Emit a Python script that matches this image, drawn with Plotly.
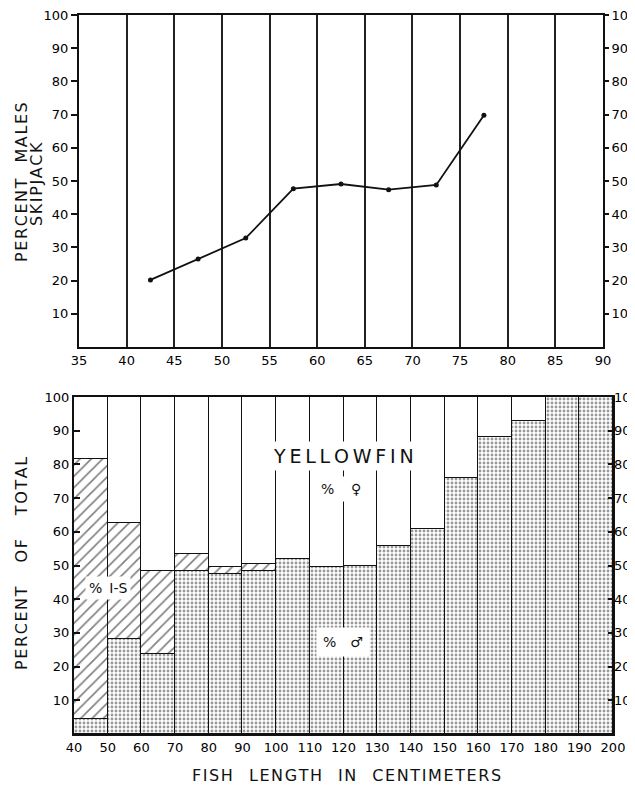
import plotly.graph_objects as go

# ---- Skipjack: percent males by length (top panel)
skip_length = [42.5, 47.5, 52.5, 57.5, 62.5, 67.5, 72.5, 77.5]
skip_pct_males = [20.2, 26.5, 32.8, 47.7, 49.1, 47.4, 48.8, 69.8]
top_xticks = [35, 40, 45, 50, 55, 60, 65, 70, 75, 80, 85, 90]
top_yticks = [10, 20, 30, 40, 50, 60, 70, 80, 90, 100]

# ---- Yellowfin: percent of total by 10-cm length class (bottom panel)
yf_class_mid = [45, 55, 65, 75, 85, 95, 105, 115, 125, 135, 145, 155, 165, 175, 185, 195]
yf_males = [4.5, 28.1, 23.6, 48.5, 47.4, 48.4, 51.9, 49.6, 50.0, 55.9, 60.8, 76.0, 88.1, 92.8, 100, 100]
yf_immature = [77.1, 34.4, 24.9, 4.9, 2.3, 2.0, 0, 0, 0, 0, 0, 0, 0, 0, 0, 0]
yf_females = [18.4, 37.5, 51.5, 46.6, 50.3, 49.6, 48.1, 50.4, 50.0, 44.1, 39.2, 24.0, 11.9, 7.2, 0, 0]
bot_xticks = [40, 50, 60, 70, 80, 90, 100, 110, 120, 130, 140, 150, 160, 170, 180, 190, 200]
bot_yticks = [10, 20, 30, 40, 50, 60, 70, 80, 90, 100]

# page body has an 8px margin, so the figure is sized to fit the window
OFF = 8
W, H = 635 - OFF, 788 - OFF
FONT = "DejaVu Sans"
INK = "#111111"


def px(x):
    return (x - OFF) / W


def py(y):
    return 1 - (y - OFF) / H


def spaced(text, gap="\u200a", word="\u2003"):
    words = text.split(" ")
    return word.join(gap.join(list(w)) for w in words)


fig = go.Figure()

fig.add_trace(go.Scatter(
    x=skip_length, y=skip_pct_males, mode="lines+markers",
    line=dict(color=INK, width=1.8), marker=dict(color=INK, size=5),
    xaxis="x", yaxis="y", showlegend=False, hoverinfo="skip"))
fig.add_trace(go.Scatter(x=[None], y=[None], xaxis="x", yaxis="y3",
                         showlegend=False, hoverinfo="skip"))

line = dict(color=INK, width=1.5)
fig.add_trace(go.Bar(
    x=yf_class_mid, y=yf_males, width=10, xaxis="x2", yaxis="y2",
    marker=dict(color="white", line=line,
                pattern=dict(shape=".", fgcolor="#333333", bgcolor="white",
                             size=4, solidity=0.4)),
    showlegend=False, hoverinfo="skip"))
fig.add_trace(go.Bar(
    x=yf_class_mid, y=yf_immature, width=10, xaxis="x2", yaxis="y2",
    marker=dict(color="white", line=line,
                pattern=dict(shape="/", fgcolor="#000000", bgcolor="white",
                             size=8, solidity=0.2)),
    showlegend=False, hoverinfo="skip"))
fig.add_trace(go.Bar(
    x=yf_class_mid, y=yf_females, width=10, xaxis="x2", yaxis="y2",
    marker=dict(color="white", line=line),
    showlegend=False, hoverinfo="skip"))
fig.add_trace(go.Scatter(x=[None], y=[None], xaxis="x2", yaxis="y4",
                         showlegend=False, hoverinfo="skip"))

tickfont = dict(family=FONT, size=13, color="#000000")
common = dict(automargin=False, zeroline=False, fixedrange=True,
              ticklabeloverflow="allow")

fig.update_layout(
    width=W, height=H, margin=dict(l=0, r=0, t=0, b=0, autoexpand=False),
    paper_bgcolor="white", plot_bgcolor="white",
    barmode="stack", bargap=0,
    xaxis=dict(domain=[px(79), px(603)], anchor="y", range=[35, 90],
               tickvals=top_xticks, ticks="", tickfont=tickfont,
               showgrid=True, gridcolor="#222222", gridwidth=1.6,
               showline=True, linecolor=INK, linewidth=2, mirror=True, **common),
    yaxis=dict(domain=[py(347), py(15)], anchor="x", range=[0, 100],
               tickvals=top_yticks, ticks="outside", ticklen=6, tickwidth=1.5,
               tickcolor=INK, tickfont=tickfont, showgrid=False,
               showline=True, linecolor=INK, linewidth=2, mirror=True, **common),
    yaxis3=dict(overlaying="y", anchor="x", side="right", range=[0, 100],
                tickvals=top_yticks, ticks="outside", ticklen=5, tickwidth=1.5,
                tickcolor=INK, tickfont=tickfont, showgrid=False,
                showline=False, **common),
    xaxis2=dict(domain=[px(74), px(613)], anchor="y2", range=[40, 200],
                tickvals=bot_xticks, ticks="", tickfont=tickfont,
                showgrid=False, showline=True, linecolor=INK, linewidth=2,
                mirror=True, **common),
    yaxis2=dict(domain=[py(734), py(397)], anchor="x2", range=[0, 100],
                tickvals=bot_yticks, ticks="inside", ticklen=6, tickwidth=1.5,
                tickcolor=INK, tickfont=tickfont, showgrid=False,
                showline=True, linecolor=INK, linewidth=2, mirror=True, **common),
    yaxis4=dict(overlaying="y2", anchor="x2", side="right", range=[0, 100],
                tickvals=bot_yticks, ticks="inside", ticklen=5, tickwidth=1.5,
                tickcolor=INK, tickfont=tickfont, showgrid=False,
                showline=False, **common),
)

ann = []
tfont = dict(family=FONT, size=16, color=INK)
ann.append(dict(text=spaced("PERCENT MALES", gap="\u200a", word="\u2003"),
                x=px(21), y=py(182), xref="paper",
                yref="paper", textangle=-90, showarrow=False, font=tfont,
                xanchor="center", yanchor="middle"))
ann.append(dict(text=spaced("SKIPJACK", gap="\u200a"), x=px(37), y=py(184), xref="paper",
                yref="paper", textangle=-90, showarrow=False, font=tfont,
                xanchor="center", yanchor="middle"))
ann.append(dict(text=spaced("PERCENT OF TOTAL", gap="\u200a", word="\u2003\u2002"),
                x=px(21), y=py(564), xref="paper",
                yref="paper", textangle=-90, showarrow=False, font=tfont,
                xanchor="center", yanchor="middle"))
ann.append(dict(text=spaced("FISH LENGTH IN CENTIMETERS", gap="\u200a", word="\u2003"),
                x=px(346), y=py(775), xref="paper", yref="paper",
                showarrow=False, font=tfont, xanchor="center", yanchor="middle"))
ann.append(dict(text=spaced("YELLOWFIN", gap="\u2009"), x=120.1, y=82.5,
                xref="x2", yref="y2", showarrow=False,
                font=dict(family=FONT, size=19, color=INK), bgcolor="white",
                borderpad=3, xanchor="center", yanchor="middle"))
ann.append(dict(text="%\u2003\u2009\u2640", x=119.3, y=72.7, xref="x2", yref="y2",
                showarrow=False, font=dict(family=FONT, size=14, color=INK),
                bgcolor="white", borderpad=4, xanchor="center", yanchor="middle"))
ann.append(dict(text="%\u2003\u2642", x=119.8, y=27.3, xref="x2", yref="y2",
                showarrow=False, font=dict(family=FONT, size=14, color=INK),
                bgcolor="white", borderpad=6, xanchor="center", yanchor="middle"))
ann.append(dict(text="%\u2002I-S", x=50.2, y=43.3, xref="x2", yref="y2",
                showarrow=False, font=dict(family=FONT, size=14, color=INK),
                bgcolor="white", borderpad=3, xanchor="center", yanchor="middle"))
fig.update_layout(annotations=ann)

fig.write_html("out.html")
